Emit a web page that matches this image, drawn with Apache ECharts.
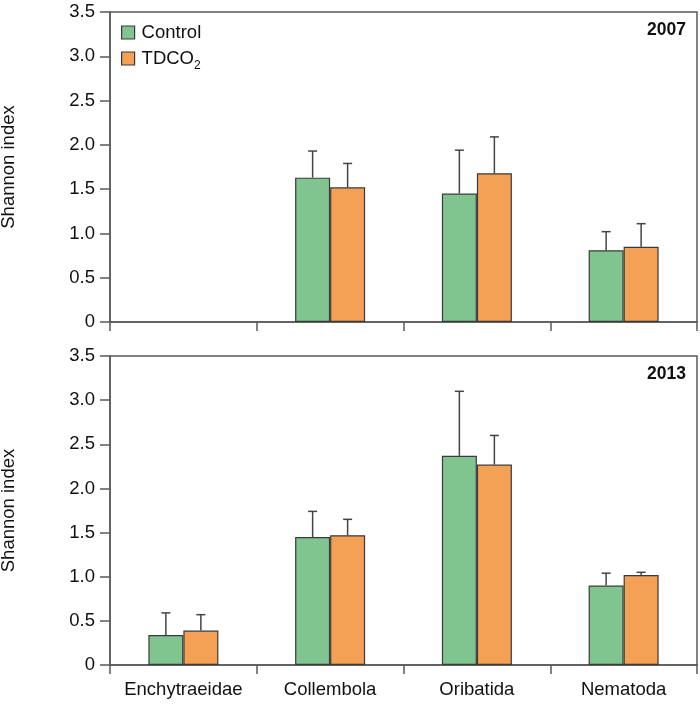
<!DOCTYPE html>
<html><head><meta charset="utf-8">
<script src="https://cdn.jsdelivr.net/npm/echarts@6/dist/echarts.min.js"></script>
<style>html,body{margin:0;padding:0;background:#fff}#c{width:700px;height:704px}</style>
</head><body><div id="c"></div>
<script>
const categories = ['Enchytraeidae', 'Collembola', 'Oribatida', 'Nematoda'];
const yTicks = [0, 0.5, 1.0, 1.5, 2.0, 2.5, 3.0, 3.5];
const years = ['2007', '2013'];
// 2007
const control2007 = [null, 1.63, 1.45, 0.81];
const control2007Err = [null, 0.30, 0.49, 0.21];
const tdco2007 = [null, 1.52, 1.68, 0.85];
const tdco2007Err = [null, 0.27, 0.41, 0.26];
// 2013
const control2013 = [0.34, 1.45, 2.37, 0.90];
const control2013Err = [0.25, 0.29, 0.73, 0.14];
const tdco2013 = [0.39, 1.47, 2.27, 1.02];
const tdco2013Err = [0.18, 0.18, 0.33, 0.03];

const FONT = 'Arial, "Liberation Sans", sans-serif';
const FS = 18.5;
const GREEN = '#80c490', ORANGE = '#f4a156', EDGE = '#3a3a3a', AX = '#5a5a5a';
const BARW = 35;

const chart = echarts.init(document.getElementById('c'));

function errSeries(vals, errs, gi, sign) {
  const data = vals.map((v, i) => v == null ? [i, null, null] : [i, v, v + errs[i]]);
  return {
    type: 'custom', xAxisIndex: gi, yAxisIndex: gi, z: 1,
    data: data,
    encode: { x: 0, y: [1, 2] },
    renderItem: function (params, api) {
      if (api.value(1) == null || isNaN(api.value(1))) return;
      const base = api.coord([api.value(0), api.value(1)]);
      const top = api.coord([api.value(0), api.value(2)]);
      const x = base[0] + sign * BARW / 2;
      const cap = 4.5;
      const st = { stroke: '#444', lineWidth: 1.5 };
      return {
        type: 'group', children: [
          { type: 'line', shape: { x1: x, y1: base[1], x2: x, y2: top[1] }, style: st },
          { type: 'line', shape: { x1: x - cap, y1: top[1], x2: x + cap, y2: top[1] }, style: st }
        ]
      };
    }
  };
}

function xAxis(gi, showLabels) {
  return {
    type: 'category', gridIndex: gi, data: categories,
    axisLine: { lineStyle: { color: AX, width: 1.5 } },
    axisTick: { show: true, interval: 0, length: 9, lineStyle: { color: AX, width: 1.5 } },
    axisLabel: { show: showLabels, interval: 0, hideOverlap: false, color: '#111', fontSize: FS, fontFamily: FONT, margin: 15 }
  };
}
function yAxis(gi) {
  return {
    type: 'value', gridIndex: gi, min: 0, max: 3.5, interval: 0.5,
    name: 'Shannon index', nameLocation: 'middle', nameGap: 92, nameRotate: 90,
    nameTextStyle: { color: '#111', fontSize: FS, fontFamily: FONT },
    axisLine: { show: true, lineStyle: { color: AX, width: 1.5 } },
    axisTick: { show: true, length: 10, lineStyle: { color: AX, width: 1.5 } },
    splitLine: { show: false },
    axisLabel: {
      color: '#111', fontSize: FS, fontFamily: FONT, margin: 15,
      formatter: v => v === 0 ? '0' : v.toFixed(1)
    }
  };
}
function bar(name, vals, gi, color) {
  return {
    name: name, type: 'bar', xAxisIndex: gi, yAxisIndex: gi, barWidth: BARW, barGap: '0%', z: 2,
    data: vals,
    itemStyle: { color: color, borderColor: EDGE, borderWidth: 1.2 }
  };
}
function legend(name, top) {
  return {
    left: 116, top: top, itemWidth: 13, itemHeight: 13, itemGap: 8,
    icon: 'rect',
    itemStyle: { borderColor: EDGE, borderWidth: 1.2 },
    textStyle: {
      color: '#111', fontSize: FS, fontFamily: FONT, padding: [0, 0, 0, 2],
      rich: { sub: { fontSize: 12, verticalAlign: 'bottom', padding: [14, 0, 0, 0], fontFamily: FONT, color: '#111' } }
    },
    formatter: n => n === 'TDCO2' ? 'TDCO{sub|2}' : n,
    data: [name]
  };
}
function grid(top, height) {
  return { left: 110, top: top, width: 587, height: height, show: true, borderColor: AX, borderWidth: 1.5,
           containLabel: false, outerBoundsMode: 'none' };
}

chart.setOption({
  animation: false,
  backgroundColor: '#fff',
  grid: [grid(12, 310), grid(356, 309)],
  xAxis: [xAxis(0, false), xAxis(1, true)],
  yAxis: [yAxis(0), yAxis(1)],
  legend: [legend('Control', 18), legend('TDCO2', 44)],
  graphic: [
    { type: 'text', right: 14, top: 21, style: { text: years[0], font: 'bold 17.5px ' + FONT, fill: '#111' } },
    { type: 'text', right: 14, top: 365, style: { text: years[1], font: 'bold 17.5px ' + FONT, fill: '#111' } }
  ],
  series: [
    bar('Control', control2007, 0, GREEN),
    bar('TDCO2', tdco2007, 0, ORANGE),
    bar('Control', control2013, 1, GREEN),
    bar('TDCO2', tdco2013, 1, ORANGE),
    errSeries(control2007, control2007Err, 0, -1),
    errSeries(tdco2007, tdco2007Err, 0, 1),
    errSeries(control2013, control2013Err, 1, -1),
    errSeries(tdco2013, tdco2013Err, 1, 1)
  ]
});
</script></body></html>
